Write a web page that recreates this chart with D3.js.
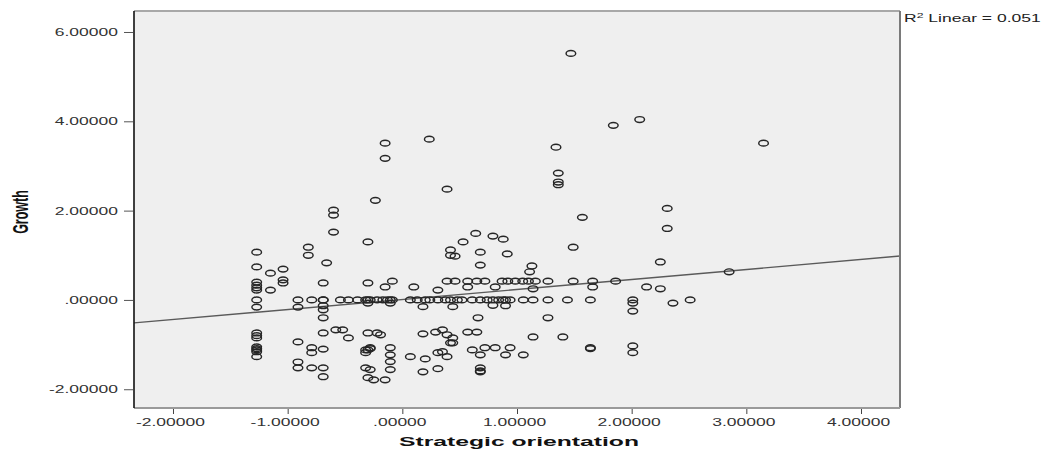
<!DOCTYPE html>
<html>
<head>
<meta charset="utf-8">
<script src="https://cdn.jsdelivr.net/npm/d3@7"></script>
<style>
  body { margin: 0; background: #ffffff; }
  svg { display: block; }
</style>
</head>
<body>
<svg id="chart" width="1048" height="454"></svg>
<script>
// Strategic orientation (x) and Growth (y) for each case
const orientation = [
  -1.27,-1.27,-1.27,-1.27,-1.27,-1.27,-1.27,-1.27,-1.27,-1.27,-1.27,-1.27,-1.27,-1.27,-1.27,-1.27,
  -1.15,-1.15,-1.04,-1.04,-1.04,
  -0.91,-0.91,-0.91,-0.91,-0.91,
  -0.82,-0.82,-0.79,-0.79,-0.79,-0.79,
  -0.69,-0.69,-0.69,-0.69,-0.69,-0.69,-0.69,-0.69,-0.69,-0.69,
  -0.66,-0.60,-0.60,-0.60,-0.58,-0.54,-0.52,-0.47,-0.47,-0.39,
  -0.32,-0.32,-0.32,-0.32,-0.30,-0.30,-0.30,-0.30,-0.30,-0.30,-0.30,
  -0.28,-0.28,-0.28,-0.28,-0.25,-0.235,-0.22,-0.22,-0.19,-0.17,
  -0.15,-0.15,-0.15,-0.15,-0.13,-0.105,-0.105,-0.105,-0.105,-0.105,-0.105,
  -0.087,-0.087,0.07,0.07,0.10,0.13,0.18,0.18,0.18,0.20,0.20,
  0.235,0.24,0.29,0.31,0.31,0.31,0.31,0.35,0.35,0.375,
  0.39,0.39,0.39,0.39,0.42,0.42,0.42,0.42,0.44,0.44,0.44,
  0.46,0.46,0.48,0.52,0.53,0.57,0.57,0.57,0.61,0.61,0.64,
  0.65,0.65,0.66,0.68,0.68,0.68,0.68,0.68,0.68,0.68,
  0.72,0.72,0.74,0.79,0.79,0.79,0.81,0.81,0.84,0.87,
  0.88,0.88,0.90,0.90,0.90,0.915,0.92,0.94,0.94,0.985,
  1.05,1.055,1.055,1.10,1.11,1.13,1.14,1.14,1.14,1.16,
  1.27,1.27,1.27,1.34,1.36,1.36,1.36,1.40,1.44,1.47,
  1.49,1.49,1.57,1.64,1.64,1.64,1.66,1.66,1.84,1.86,
  2.01,2.01,2.01,2.01,2.01,2.07,2.13,2.25,2.25,2.31,2.31,
  2.36,2.51,2.85,3.15
];
const growth = [
  1.07,0.74,0.40,0.33,0.27,0.22,0,-0.16,-0.74,-0.80,-0.85,-1.05,-1.09,-1.12,-1.16,-1.27,
  0.60,0.22,0.69,0.45,0.38,
  0,-0.16,-0.94,-1.39,-1.52,
  1.18,1.00,0,-1.07,-1.18,-1.52,
  0.38,0,0,-0.13,-0.22,-0.40,-0.74,-1.10,-1.52,-1.72,
  0.83,2.01,1.90,1.52,-0.67,0,-0.67,0,-0.85,0,
  0,-1.12,-1.18,-1.52,1.30,0.38,0,-0.07,-0.74,-1.12,-1.74,
  0,-1.07,-1.09,-1.56,-1.79,2.23,0,-0.74,-0.78,0,
  3.51,3.17,0.29,-1.79,0,0,-0.07,-1.07,-1.23,-1.38,-1.56,
  0.42,0,0,-1.27,0.29,0,-0.15,-0.76,-1.61,0,-1.32,
  3.60,0,-0.72,0.22,0,-1.18,-1.54,-0.67,-1.16,0,
  2.48,0.42,-0.78,-1.27,1.12,1.00,0,-0.96,-0.15,-0.85,-0.96,
  0.98,0.42,0,0,1.30,0.42,0.29,-0.72,0,-1.12,1.49,
  0.42,-0.72,-0.40,1.07,0.78,0,-1.23,-1.52,-1.59,-1.61,
  0.42,-1.07,0,1.43,0,-0.12,0.29,-1.07,0,0.42,
  1.36,0,0,-0.13,-1.23,1.03,0.42,0,-1.07,0.42,
  0.42,0,-1.23,0.42,0.63,0.76,0.25,0,-0.83,0.42,
  0.42,0,-0.40,3.42,2.84,2.64,2.58,-0.83,0,5.52,
  1.18,0.42,1.85,0,-1.07,-1.09,0.42,0.29,3.91,0.42,
  0,-0.07,-0.25,-1.03,-1.18,4.04,0.29,0.85,0.25,2.05,1.60,
  -0.07,0,0.63,3.51
];

const xTicks = [-2, -1, 0, 1, 2, 3, 4];
const xTickLabels = ["-2.00000", "-1.00000", ".00000", "1.00000", "2.00000", "3.00000", "4.00000"];
const yTicks = [-2, 0, 2, 4, 6];
const yTickLabels = ["-2.00000", ".00000", "2.00000", "4.00000", "6.00000"];
const fitCoefficients = [0.01, 0.224];   // intercept, slope of the linear fit
const fitRSquared = ["0.051"];
const axisTitles = ["Strategic orientation", "Growth"];

const svg = d3.select("#chart");
const frame = { left: 134, top: 11, right: 900, bottom: 408 };
const stretch = 1.75;   // wide glyph aspect used for all text
const font = "'Liberation Sans', Arial, sans-serif";

const x = d3.scaleLinear().domain([-2.34, 4.34]).range([frame.left, frame.right]);
const y = d3.scaleLinear().domain([-2.42, 6.47]).range([frame.bottom, frame.top]);

// plot area
svg.append("rect")
  .attr("x", frame.left).attr("y", frame.top)
  .attr("width", frame.right - frame.left).attr("height", frame.bottom - frame.top)
  .attr("fill", "#efefef");

svg.append("clipPath").attr("id", "plotClip")
  .append("rect")
  .attr("x", frame.left).attr("y", frame.top)
  .attr("width", frame.right - frame.left).attr("height", frame.bottom - frame.top);

// fit line across the full x range
const fitY = v => fitCoefficients[0] + fitCoefficients[1] * v;
const xd = x.domain();
svg.append("line")
  .attr("clip-path", "url(#plotClip)")
  .attr("x1", x(xd[0])).attr("y1", y(fitY(xd[0])))
  .attr("x2", x(xd[1])).attr("y2", y(fitY(xd[1])))
  .attr("stroke", "#5a5a5a").attr("stroke-width", 1.4);

// cases
const cases = d3.range(Math.min(orientation.length, growth.length))
  .map(i => ({ o: orientation[i], g: growth[i] }));
svg.append("g")
  .attr("clip-path", "url(#plotClip)")
  .selectAll("ellipse")
  .data(cases)
  .join("ellipse")
  .attr("cx", d => x(d.o))
  .attr("cy", d => y(d.g))
  .attr("rx", 4.8).attr("ry", 2.9)
  .attr("fill", "none")
  .attr("stroke", "#262626")
  .attr("stroke-width", 1.45);

// frame borders
svg.append("line").attr("x1", frame.left).attr("x2", frame.right)
  .attr("y1", frame.top).attr("y2", frame.top)
  .attr("stroke", "#a8a8a8").attr("stroke-width", 2);
svg.append("line").attr("x1", frame.right).attr("x2", frame.right)
  .attr("y1", frame.top).attr("y2", frame.bottom)
  .attr("stroke", "#7a7a7a").attr("stroke-width", 2);
svg.append("line").attr("x1", frame.left).attr("x2", frame.right)
  .attr("y1", frame.bottom).attr("y2", frame.bottom)
  .attr("stroke", "#9a9a9a").attr("stroke-width", 2);

// y axis
const yAxis = svg.append("g")
  .attr("transform", `translate(${frame.left},0)`)
  .call(d3.axisLeft(y).tickValues(yTicks).tickSize(10).tickFormat((d, i) => yTickLabels[i]));
yAxis.select(".domain").remove();
yAxis.selectAll(".tick line").attr("stroke", "#555").attr("x2", -10).attr("x1", -1);
yAxis.selectAll(".tick text")
  .attr("x", null).attr("dy", null)
  .attr("transform", `translate(-16,3.5) scale(${stretch},1)`)
  .attr("text-anchor", "end")
  .attr("font-family", font).attr("font-size", 10)
  .attr("fill", "#333");
svg.append("line").attr("x1", frame.left).attr("x2", frame.left)
  .attr("y1", frame.top).attr("y2", frame.bottom)
  .attr("stroke", "#111").attr("stroke-width", 1.6);

// x axis
const xAxis = svg.append("g")
  .attr("transform", `translate(0,${frame.bottom})`)
  .call(d3.axisBottom(x).tickValues(xTicks).tickSize(6).tickFormat((d, i) => xTickLabels[i]));
xAxis.select(".domain").remove();
xAxis.selectAll(".tick line").attr("stroke", "#444").attr("y1", 1);
xAxis.selectAll(".tick text")
  .attr("y", null).attr("dy", null)
  .attr("transform", `translate(-3,18) scale(${stretch},1)`)
  .attr("text-anchor", "middle")
  .attr("font-family", font).attr("font-size", 10)
  .attr("fill", "#333");

// axis titles
svg.append("text")
  .attr("transform", `translate(519,446) scale(1.9,1)`)
  .attr("text-anchor", "middle")
  .attr("font-family", font).attr("font-size", 13).attr("font-weight", "bold")
  .attr("fill", "#111")
  .text(axisTitles[0]);
svg.append("text")
  .attr("transform", `translate(28,212) scale(${stretch},1) rotate(-90)`)
  .attr("text-anchor", "middle")
  .attr("font-family", font).attr("font-size", 12.5).attr("font-weight", "bold")
  .attr("fill", "#111")
  .text(axisTitles[1]);

// fit annotation
const note = svg.append("text")
  .attr("transform", `translate(904,22) scale(${stretch},1)`)
  .attr("font-family", font).attr("font-size", 10)
  .attr("fill", "#222");
note.append("tspan").text("R");
note.append("tspan").attr("font-size", 7).attr("dy", -4).text("2");
note.append("tspan").attr("dy", 4).text(" Linear = " + fitRSquared[0]);
</script>
</body>
</html>
